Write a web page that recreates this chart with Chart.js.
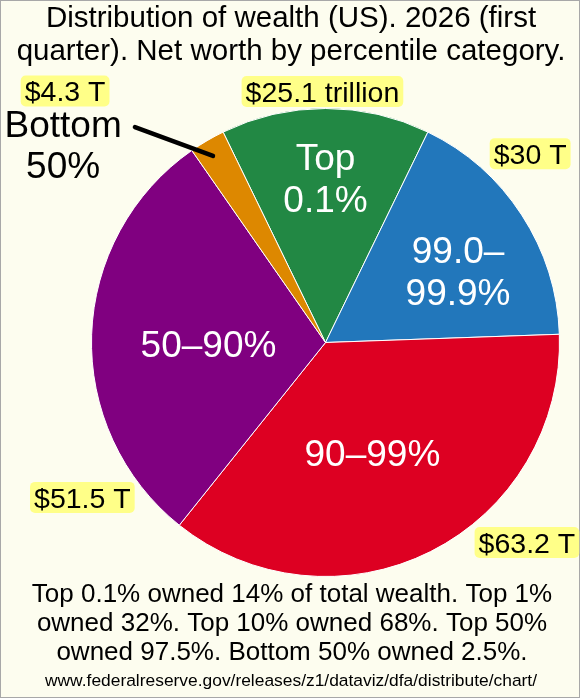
<!DOCTYPE html>
<html>
<head>
<meta charset="utf-8">
<script src="https://cdn.jsdelivr.net/npm/chart.js@4.4.1/dist/chart.umd.min.js"></script>
<style>
    html, body { margin: 0; padding: 0; background: #fdfdef; }
    canvas { display: block; }
</style>
</head>
<body>
<canvas id="wealth-chart" width="580" height="698"></canvas>
<script>
// data (trillions of dollars)
const categories = ['Top 0.1%', '99.0–99.9%', '90–99%', '50–90%', 'Bottom 50%'];
const wealthTrillions = [25.1, 30, 63.2, 51.5, 4.3];
const valueLabels = ['$25.1 trillion', '$30 T', '$63.2 T', '$51.5 T', '$4.3 T'];
const sliceLabels = [['Top', '0.1%'], ['99.0–', '99.9%'], ['90–99%'], ['50–90%'], ['Bottom', '50%']];
const sliceColors = ['#228844', '#2277bb', '#dd0022', '#800080', '#dd8800'];

const titleLines = [
    'Distribution of wealth (US). 2026 (first',
    'quarter). Net worth by percentile category.'
];
const footerLines = [
    'Top 0.1% owned 14% of total wealth. Top 1%',
    'owned 32%. Top 10% owned 68%. Top 50%',
    'owned 97.5%. Bottom 50% owned 2.5%.'
];
const sourceLine = 'www.federalreserve.gov/releases/z1/dataviz/dfa/distribute/chart/';

const FONT = '"Liberation Sans", Arial, Helvetica, sans-serif';

// where the labels sit round the pie: [degrees clockwise from top, fraction of radius]
const valueSpots = [[359.3, 1.073], [47.3, 1.19], [134.8, 1.213], [237.5, 1.232], [314, 1.547]];
const nameSpots = [[0, 0.705], [61.6, 0.644], [156.9, 0.511], [269.3, 0.5], [307.1, 1.406]];
const leaderSpot = [[318.5, 1.229], [328.9, 0.931]];

let total = wealthTrillions.reduce((a, b) => a + b, 0);

function polar(arc, spot) {
    let t = spot[0] * Math.PI / 180;
    let r = spot[1] * arc.outerRadius;
    return {x: arc.x + r * Math.sin(t), y: arc.y - r * Math.cos(t)};
}

function textBlock(ctx, lines, cx, cy, size, lineHeight) {
    let cap = size * 0.716;
    let h = cap + (lines.length - 1) * lineHeight;
    let base = cy - h / 2 + cap;
    for (let i = 0; i < lines.length; i++) {
        ctx.fillText(lines[i], cx, base + i * lineHeight);
    }
}

function roundBox(ctx, x, y, w, h, r) {
    ctx.beginPath();
    ctx.moveTo(x + r, y);
    ctx.arcTo(x + w, y, x + w, y + h, r);
    ctx.arcTo(x + w, y + h, x, y + h, r);
    ctx.arcTo(x, y + h, x, y, r);
    ctx.arcTo(x, y, x + w, y, r);
    ctx.closePath();
    ctx.fill();
}

const labelPlugin = {
    id: 'wealthLabels',
    afterDraw(chart) {
        const ctx = chart.ctx;
        const arcs = chart.getDatasetMeta(0).data;
        const arc = arcs[0].getProps(['x', 'y', 'outerRadius'], true);
        ctx.save();
        ctx.textAlign = 'center';
        ctx.textBaseline = 'alphabetic';

        // frame
        ctx.strokeStyle = '#a8a8a8';
        ctx.lineWidth = 1;
        ctx.strokeRect(0.5, 0.5, chart.width - 1, chart.height - 1);

        // title
        ctx.fillStyle = '#000';
        ctx.font = '29.5px ' + FONT;
        ctx.fillText(titleLines[0], 291, 27);
        ctx.fillText(titleLines[1], 291, 59.5);

        // footer
        ctx.font = '26px ' + FONT;
        for (let i = 0; i < footerLines.length; i++) {
            ctx.fillText(footerLines[i], 292, 602 + i * 29.2);
        }
        ctx.font = '17.4px ' + FONT;
        ctx.fillText(sourceLine, 291, 686);

        // value boxes
        ctx.font = '28.5px ' + FONT;
        for (let i = 0; i < valueLabels.length; i++) {
            let p = polar(arc, valueSpots[i]);
            let w = ctx.measureText(valueLabels[i]).width + 8;
            let h = 31;
            ctx.fillStyle = '#ffff88';
            roundBox(ctx, p.x - w / 2, p.y - h / 2, w, h, 5);
            ctx.fillStyle = '#000';
            ctx.fillText(valueLabels[i], p.x, p.y + 28.5 * 0.716 / 2);
        }

        // slice names
        ctx.font = '37px ' + FONT;
        for (let i = 0; i < sliceLabels.length; i++) {
            let p = polar(arc, nameSpots[i]);
            ctx.fillStyle = i === 4 ? '#000' : '#fff';
            textBlock(ctx, sliceLabels[i], p.x, p.y, 37, 41.5);
        }

        // leader for the thin bottom 50% slice
        let a = polar(arc, leaderSpot[0]);
        let b = polar(arc, leaderSpot[1]);
        ctx.strokeStyle = '#000';
        ctx.lineWidth = 4.5;
        ctx.lineCap = 'round';
        ctx.beginPath();
        ctx.moveTo(a.x, a.y);
        ctx.lineTo(b.x, b.y);
        ctx.stroke();

        ctx.restore();
    }
};

new Chart(document.querySelector('#wealth-chart'), {
    type: 'pie',
    data: {
        labels: categories,
        datasets: [{
            data: wealthTrillions,
            backgroundColor: sliceColors,
            borderColor: '#ffffff',
            borderWidth: 1
        }]
    },
    options: {
        responsive: false,
        animation: false,
        devicePixelRatio: 1,
        // first slice centred on the top
        rotation: -(wealthTrillions[0] / total) * 180,
        layout: {
            padding: {left: 91, right: 20, top: 108, bottom: 121}
        },
        plugins: {
            legend: {display: false},
            tooltip: {enabled: false},
            title: {display: false}
        }
    },
    plugins: [labelPlugin]
});
</script>
</body>
</html>
